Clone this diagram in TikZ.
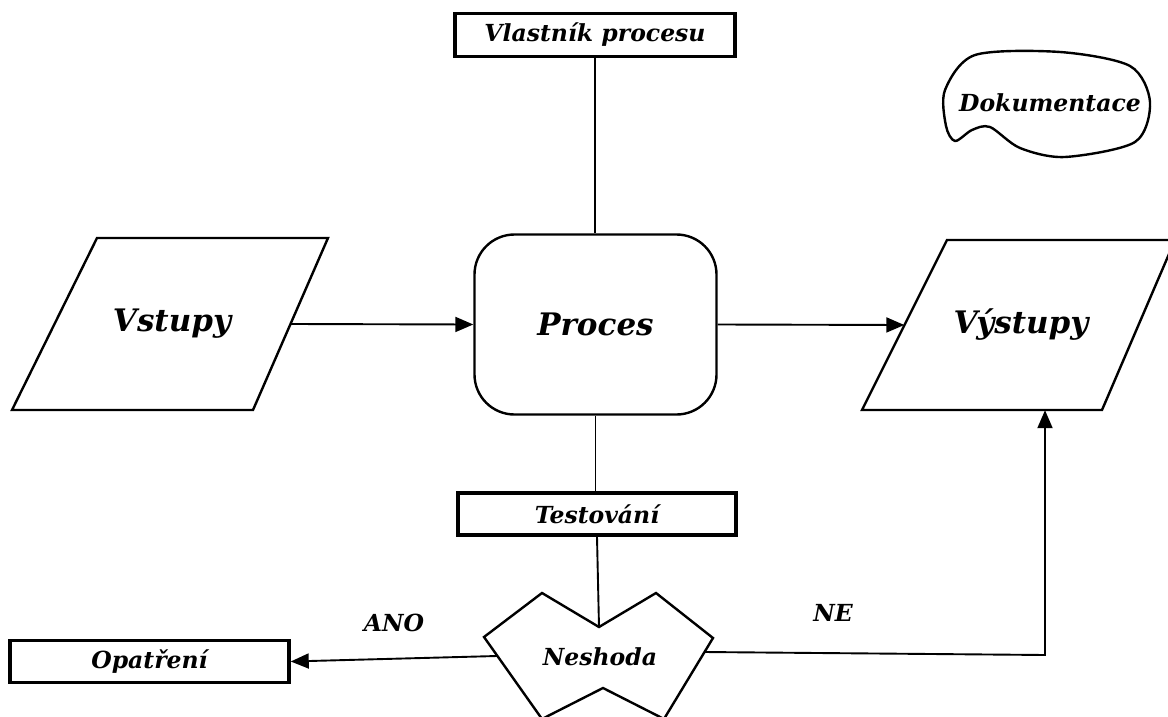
\documentclass[tikz,border=0pt]{standalone}
\usepackage{fontspec}
\setmainfont{DejaVu Serif}
\usetikzlibrary{arrows.meta}
\begin{document}
\begin{tikzpicture}[x=1pt,y=-1pt,
  lbl/.style={font=\bfseries\itshape\fontsize{23.5}{27}\selectfont},
  big/.style={font=\bfseries\itshape\fontsize{31}{36}\selectfont},
  frame/.style={draw, line width=3.5pt, inner sep=0pt},
  conn/.style={line width=1.9pt},
  arr/.style={conn, -{Triangle[length=18pt,width=15pt]}},
  outline/.style={line width=2.4pt, line join=miter}
]
\useasboundingbox (0,0) rectangle (1168,717);

% process owner
\node[frame, lbl, minimum width=280pt, minimum height=43pt] (owner) at (595,35) {Vlastník procesu};

% the process itself
\node[draw, line width=2.4pt, rounded corners=40pt, minimum width=242pt,
      minimum height=180pt, big] (proc) at (595.5,324.5) {Proces};

% inputs (parallelogram)
\draw[outline] (97,238) -- (328,238) -- (253,410) -- (12,410) -- cycle;
\node[big, minimum width=237pt, minimum height=172pt] (in) at (172,324) {Vstupy};

% outputs (parallelogram)
\draw[outline] (947,240) -- (1175,240) -- (1102,410) -- (862,410) -- cycle;
\node[big, minimum width=233pt, minimum height=170pt] (out) at (1021,325) {Výstupy};

% documentation (wavy document shape)
\draw[outline] plot[smooth cycle] coordinates {(975,55) (1060,52) (1130,66) (1150,102)
  (1135,142) (1065,157) (1020,148) (990,127) (972,130) (955,141) (946,126) (945,90)};
\node[lbl] (doc) at (1050,103) {Dokumentace};

% testing
\node[frame, lbl, minimum width=278pt, minimum height=42pt] (test) at (597,514) {Testování};

% nonconformity
\coordinate (nt) at (599,627);
\draw[outline] (484,637) -- (542,593) -- (nt) -- (656,593) -- (713,638)
  -- (664,719) -- (603,688) -- (542,719) -- cycle;
\node[lbl] (nes) at (600,657) {Neshoda};
\coordinate (nesW) at (497,656);
\coordinate (nesE) at (704,652);

% corrective action
\node[frame, lbl, minimum width=279pt, minimum height=42pt] (act) at (149.5,661.5) {Opatření};

% connectors
\draw[conn] (owner.south) -- (owner.south |- proc.north);
\draw[arr] (in.east) -- (proc.west);
\draw[arr] (proc.east) -- (out.west);
\draw[conn] (proc.south) -- (proc.south |- test.north);
\draw[conn] (test.south) -- (nt);
\draw[arr] (nesW) -- (act.east);
\coordinate (turn) at (1045,655);
\draw[arr] (nesE) -- (turn) -- (out.south -| turn);

% branch labels
\node[lbl] (ano) at (394,623) {ANO};
\node[lbl] (ne) at (833,613) {NE};
\end{tikzpicture}
\end{document}
